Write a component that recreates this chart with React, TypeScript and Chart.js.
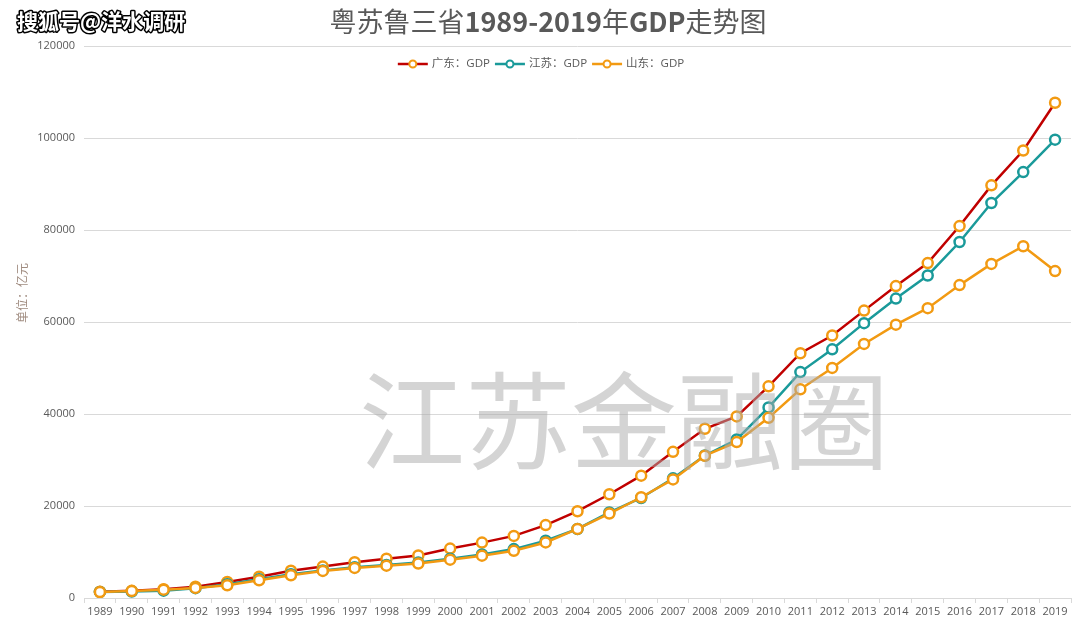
import React, { useEffect, useRef } from "react";
import { Chart, registerables } from "chart.js";

Chart.register(...registerables);

const years: string[] = [
  "1989", "1990", "1991", "1992", "1993", "1994", "1995", "1996", "1997", "1998",
  "1999", "2000", "2001", "2002", "2003", "2004", "2005", "2006", "2007", "2008",
  "2009", "2010", "2011", "2012", "2013", "2014", "2015", "2016", "2017", "2018", "2019",
];

const guangdong: number[] = [
  1381, 1559, 1893, 2447, 3469, 4619, 5933, 6835, 7775, 8531,
  9251, 10741, 12039, 13502, 15845, 18865, 22557, 26588, 31777, 36797,
  39483, 46013, 53210, 57068, 62475, 67810, 72813, 80855, 89705, 97278, 107671,
];

const jiangsu: number[] = [
  1321, 1417, 1601, 2136, 2998, 4057, 5155, 6004, 6680, 7200,
  7698, 8554, 9457, 10632, 12443, 15004, 18599, 21742, 26018, 30982,
  34457, 41425, 49110, 54058, 59753, 65088, 70116, 77388, 85870, 92595, 99632,
];

const shandong: number[] = [
  1293, 1511, 1810, 2196, 2770, 3844, 4953, 5883, 6537, 7021,
  7493, 8337, 9195, 10275, 12078, 15022, 18367, 21900, 25777, 30933,
  33896, 39170, 45362, 50013, 55230, 59427, 63002, 68024, 72634, 76470, 71068,
];

const seriesNames: string[] = ["广东：GDP", "江苏：GDP", "山东：GDP"];
const yTicks: number[] = [0, 20000, 40000, 60000, 80000, 100000, 120000];

const RED = "#c00000";
const TEAL = "#1a9a9a";
const ORANGE = "#f29a12";
const TEXT = "#595959";
const GRID = "#d9d9d9";
const SANS = "'Open Sans', 'Noto Sans CJK SC', sans-serif";
const CJK = "'Noto Sans CJK SC', 'Open Sans', sans-serif";

const decorPlugin = {
  id: "decor",
  afterDatasetsDraw(chart: any) {
    const ctx = chart.ctx as CanvasRenderingContext2D;
    ctx.save();
    ctx.font = `normal 106px ${CJK}`;
    ctx.fillStyle = "rgba(170,170,170,0.5)";
    ctx.textAlign = "center";
    ctx.textBaseline = "middle";
    ctx.fillText("江苏金融圈", 624, 421);
    ctx.restore();
  },
  afterDraw(chart: any) {
    const ctx = chart.ctx as CanvasRenderingContext2D;
    ctx.save();
    ctx.font = `bold 21px ${CJK}`;
    ctx.textAlign = "left";
    ctx.textBaseline = "alphabetic";
    ctx.lineJoin = "round";
    ctx.lineWidth = 3;
    ctx.strokeStyle = "#000";
    ctx.strokeText("搜狐号@洋水调研", 17, 29);
    ctx.fillStyle = "#fff";
    ctx.fillText("搜狐号@洋水调研", 17, 29);

    const parts: [string, string][] = [
      ["粤苏鲁三省", "normal"],
      ["1989-2019", "bold"],
      ["年", "normal"],
      ["GDP", "bold"],
      ["走势图", "normal"],
    ];
    const size = 27;
    let total = 0;
    const widths = parts.map(([t, w]) => {
      ctx.font = `${w} ${size}px ${CJK}`;
      const m = ctx.measureText(t).width;
      total += m;
      return m;
    });
    let x = 548 - total / 2;
    ctx.fillStyle = TEXT;
    ctx.textBaseline = "middle";
    parts.forEach(([t, w], i) => {
      ctx.font = `${w} ${size}px ${CJK}`;
      ctx.fillText(t, x, 22);
      x += widths[i];
    });

    const lineColors = [RED, TEAL, ORANGE];
    const markColors = [ORANGE, TEAL, ORANGE];
    ctx.font = `11.5px ${SANS}`;
    const symW = 30;
    const gap = 4;
    const itemGap = 5;
    const textWs = seriesNames.map((n) => ctx.measureText(n).width);
    let legW = 0;
    textWs.forEach((w, i) => {
      legW += symW + gap + w + (i < textWs.length - 1 ? itemGap : 0);
    });
    let lx = 541 - legW / 2;
    const ly = 64;
    seriesNames.forEach((n, i) => {
      ctx.strokeStyle = lineColors[i];
      ctx.lineWidth = 2.5;
      ctx.beginPath();
      ctx.moveTo(lx, ly);
      ctx.lineTo(lx + symW, ly);
      ctx.stroke();
      ctx.beginPath();
      ctx.arc(lx + symW / 2, ly, 3.5, 0, Math.PI * 2);
      ctx.fillStyle = "#fff";
      ctx.fill();
      ctx.lineWidth = 2;
      ctx.strokeStyle = markColors[i];
      ctx.stroke();
      ctx.fillStyle = TEXT;
      ctx.textAlign = "left";
      ctx.textBaseline = "middle";
      ctx.fillText(n, lx + symW + gap, ly);
      lx += symW + gap + textWs[i] + itemGap;
    });

    ctx.save();
    ctx.translate(22, 293);
    ctx.rotate(-Math.PI / 2);
    ctx.font = `12px ${CJK}`;
    ctx.fillStyle = "#a08c80";
    ctx.textAlign = "center";
    ctx.textBaseline = "middle";
    ctx.fillText("单位：亿元", 0, 0);
    ctx.restore();

    ctx.restore();
  },
};

export default function App() {
  const ref = useRef<HTMLCanvasElement | null>(null);

  useEffect(() => {
    if (!ref.current) return;
    const mk = (label: string, data: number[], line: string, mark: string, order: number) => ({
      label,
      data,
      borderColor: line,
      backgroundColor: line,
      borderWidth: 2.5,
      pointRadius: 5,
      pointBorderWidth: 2.5,
      pointBackgroundColor: "#fff",
      pointBorderColor: mark,
      tension: 0,
      order,
    });
    const chart = new Chart(ref.current, {
      type: "line",
      data: {
        labels: years,
        datasets: [
          mk(seriesNames[0], guangdong, RED, ORANGE, 3),
          mk(seriesNames[1], jiangsu, TEAL, TEAL, 2),
          mk(seriesNames[2], shandong, ORANGE, ORANGE, 1),
        ],
      },
      options: {
        responsive: false,
        animation: false,
        layout: { padding: { top: 46, right: 9, left: 0, bottom: 0 } },
        plugins: {
          legend: { display: false },
          title: { display: false },
          tooltip: { enabled: false },
        },
        scales: {
          x: {
            type: "category",
            offset: true,
            grid: {
              display: true,
              drawOnChartArea: false,
              drawTicks: true,
              tickLength: 5,
              color: GRID,
              offset: true,
            },
            border: { display: true, color: GRID },
            ticks: {
              color: TEXT,
              font: { size: 11, family: SANS },
              maxRotation: 0,
              minRotation: 0,
              autoSkip: false,
              padding: 2,
            },
            afterFit: (s: any) => {
              s.height = 26;
            },
          },
          y: {
            min: 0,
            max: 120000,
            afterBuildTicks: (s: any) => {
              s.ticks = yTicks.map((v) => ({ value: v }));
            },
            grid: { color: GRID, drawTicks: false, lineWidth: 1 },
            border: { display: false },
            ticks: {
              color: TEXT,
              font: { size: 11, family: SANS },
              padding: 9,
              callback: (v: any) => String(v),
            },
            afterFit: (s: any) => {
              s.width = 84;
            },
          },
        },
      },
      plugins: [decorPlugin],
    });
    return () => chart.destroy();
  }, []);

  return (
    <div style={{ position: "fixed", left: 0, top: 0, width: 1080, height: 624, background: "#fff" }}>
      <canvas ref={ref} width={1080} height={624} style={{ display: "block" }} />
    </div>
  );
}
